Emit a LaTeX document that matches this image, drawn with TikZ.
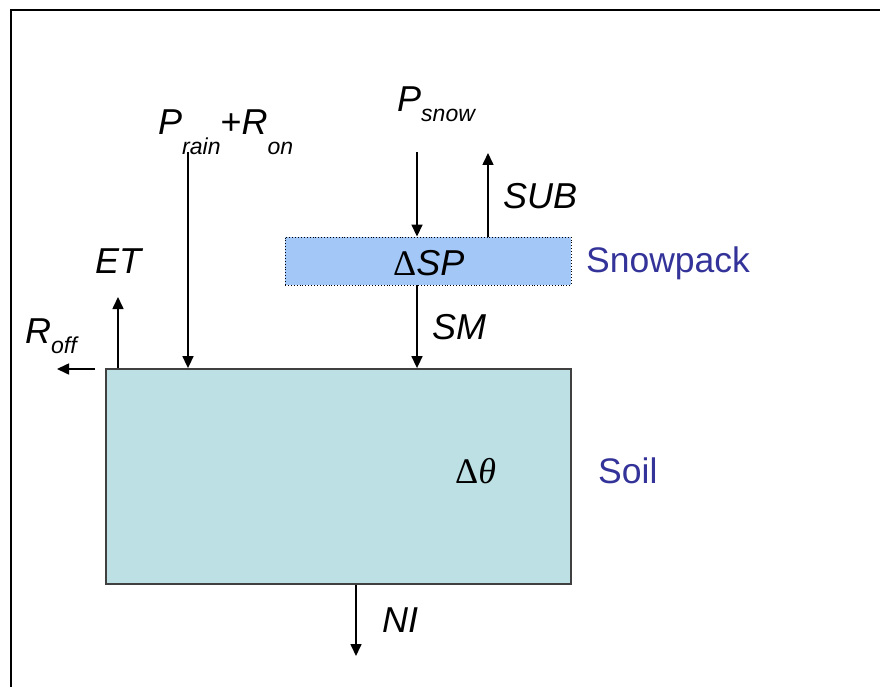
\documentclass[tikz,border=0pt]{standalone}
\usepackage{fontspec}
\setmainfont{Liberation Sans}
\newfontfamily\serifdelta{Liberation Serif}
\usetikzlibrary{arrows.meta}
\definecolor{soilfill}{HTML}{BCE0E3}
\definecolor{snowfill}{HTML}{A3C8F8}
\definecolor{labblue}{HTML}{333399}
\definecolor{edgegray}{HTML}{404040}
\newcommand{\subt}[2]{\raisebox{-#2pt}{\fontsize{23}{25}\selectfont #1}}
\begin{document}
\begin{tikzpicture}[x=1pt,y=-1pt,
  lbl/.style={font=\fontsize{36}{40}\selectfont\itshape, inner sep=0pt, anchor=base west},
  bluelbl/.style={font=\fontsize{35.5}{40}\selectfont, text=labblue, inner sep=0pt, anchor=base west},
  flow/.style={line width=1.6pt, -{Triangle[length=12pt,width=11pt]}},
  boxsoil/.style={draw=edgegray, line width=1.8pt, fill=soilfill, minimum width=465pt, minimum height=215pt, inner sep=0pt},
  boxsnow/.style={draw=black, dotted, line width=0.9pt, fill=snowfill, minimum width=286pt, minimum height=48pt, inner sep=0pt}]
\useasboundingbox (0,0) rectangle (880,687);
% frame
\draw[line width=1.8pt] (11,690) -- (11,10) -- (883,10);
% boxes
\node[boxsoil] (soil) at (338.5,476.5) {};
\node[boxsnow] (snow) at (428,261) {};
% labels
\node[lbl] (dsp) at (393,275) {{\serifdelta\upshape Δ}SP};
\node[lbl, font=\fontsize{36}{40}\selectfont] (dtheta) at (455,483) {{\serifdelta Δ\itshape θ}};
\node[bluelbl] (snowlbl) at (586,272) {Snowpack};
\node[bluelbl] (soillbl) at (598,483) {Soil};
\node[lbl] (prain) at (158,135) {P\subt{rain}{20}{\upshape +}R\subt{on}{20}};
\node[lbl] (psnow) at (397,112) {P\subt{snow}{10}};
\node[lbl] (sub) at (503,208) {SUB};
\node[lbl] (sm) at (432,339) {SM};
\node[lbl] (et) at (95,273) {ET};
\node[lbl] (roff) at (25,343) {R\subt{off}{10}};
\node[lbl] (ni) at (382,632) {NI};
% free ends
\coordinate (prainS) at (188,152);
\coordinate (psnowS) at (417,152);
\coordinate (subE) at (488,153);
\coordinate (smX) at (417,300);
\coordinate (etE) at (118,297);
\coordinate (roffS) at (95,369);
\coordinate (roffE) at (57,369);
\coordinate (niE) at (356,656);
% connectors
\draw[flow] (prainS) -- (prainS |- soil.north);
\draw[flow] (psnowS) -- (psnowS |- snow.north);
\draw[flow] (subE |- snow.north) -- (subE);
\draw[flow] (smX |- snow.south) -- (smX |- soil.north);
\draw[flow] (etE |- soil.north) -- (etE);
\draw[flow] (roffS) -- (roffE);
\draw[flow] (niE |- soil.south) -- (niE);
\end{tikzpicture}
\end{document}
